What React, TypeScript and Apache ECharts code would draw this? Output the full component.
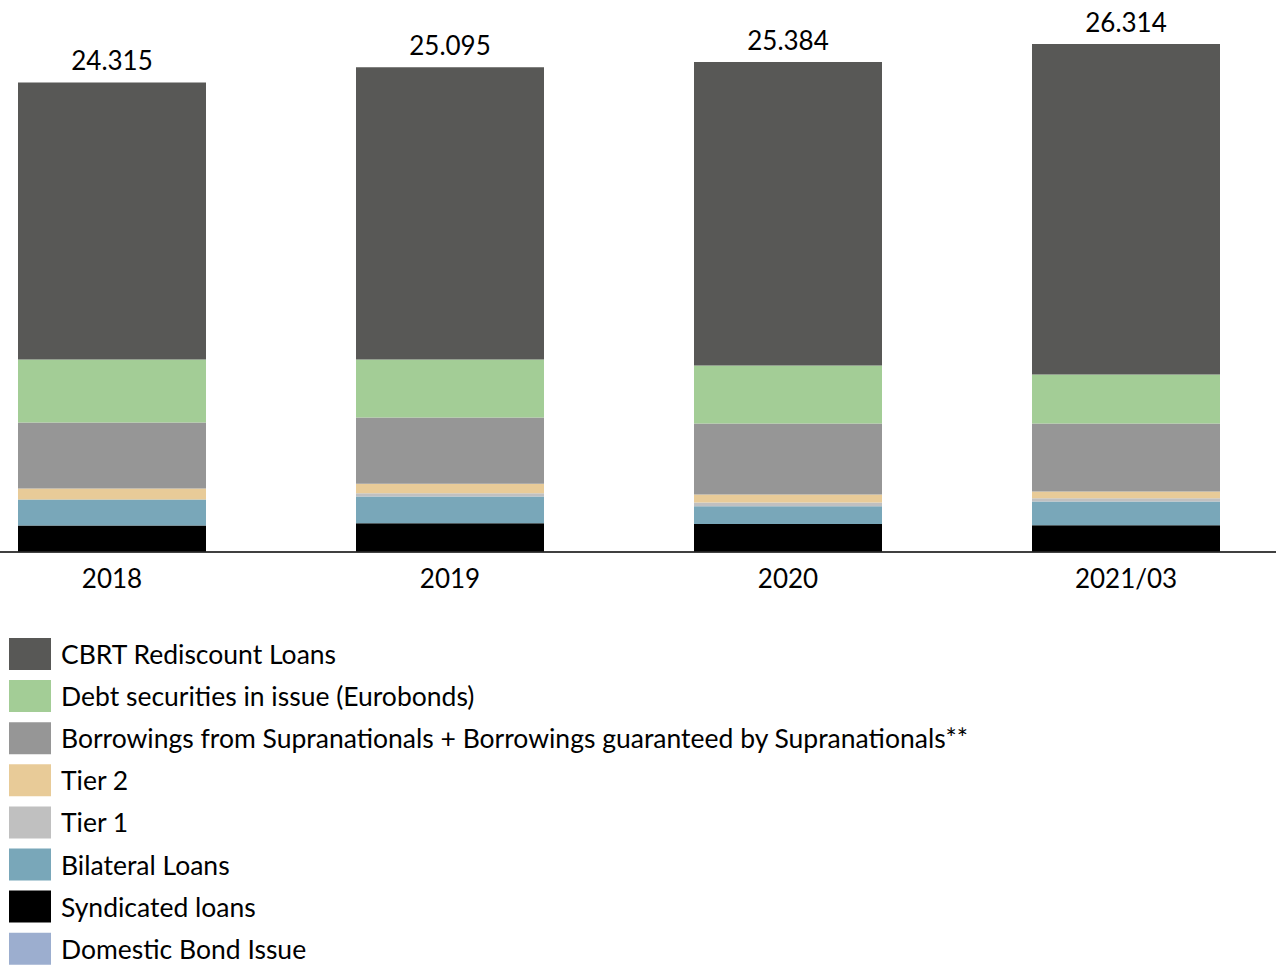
import React, { useEffect, useRef } from "react";
import * as echarts from "echarts";

const categories = ["2018", "2019", "2020", "2021/03"];
const totals = [24.315, 25.095, 25.384, 26.314];
const syndicated = [1.35, 1.47, 1.42, 1.36];
const bilateral = [1.35, 1.38, 0.93, 1.23];
const tier1 = [0, 0.17, 0.19, 0.17];
const tier2 = [0.57, 0.49, 0.41, 0.35];
const supranational = [3.42, 3.44, 3.68, 3.53];
const eurobonds = [3.27, 3.01, 3.01, 2.54];
const cbrt = [14.36, 15.14, 15.74, 17.13];
const domestic = [0, 0, 0, 0];

const legendOrder = [
  "CBRT Rediscount Loans",
  "Debt securities in issue (Eurobonds)",
  "Borrowings from Supranationals + Borrowings guaranteed by Supranationals**",
  "Tier 2",
  "Tier 1",
  "Bilateral Loans",
  "Syndicated loans",
  "Domestic Bond Issue",
];

const FONT = "Lato";
const OFFSET = 57;

export default function App() {
  const ref = useRef<HTMLDivElement>(null);
  useEffect(() => {
    if (!ref.current) return;
    const chart = echarts.init(ref.current, undefined, { renderer: "svg" });
    const mk = (name: string, data: number[], color: string, extra: any = {}) => ({
      name,
      type: "bar",
      stack: "total",
      barWidth: 188,
      data,
      itemStyle: { color },
      ...extra,
    });
    chart.setOption({
      animation: false,
      textStyle: { fontFamily: FONT },
      grid: { left: 0, right: 0, top: 11.4, height: 540.1 },
      xAxis: {
        type: "category",
        data: categories,
        axisLine: { lineStyle: { color: "#000", width: 1.5 } },
        axisTick: { show: false },
        axisLabel: { color: "#000", fontSize: 26, fontFamily: FONT, margin: 13 },
      },
      yAxis: {
        type: "value",
        min: 0,
        max: 28,
        show: false,
        splitLine: { show: false },
      },
      legend: {
        orient: "vertical",
        left: OFFSET + 4,
        top: 633,
        itemWidth: 42,
        itemHeight: 32,
        itemGap: 10.1,
        icon: "rect",
        data: legendOrder,
        selectedMode: false,
        textStyle: { color: "#000", fontSize: 26.5, fontFamily: FONT, padding: [0, 0, 0, 5] },
      },
      series: [
        mk("Syndicated loans", syndicated, "#000000"),
        mk("Domestic Bond Issue", domestic, "#9CAECF"),
        mk("Bilateral Loans", bilateral, "#79A7B9"),
        mk("Tier 1", tier1, "#C0C0C0"),
        mk("Tier 2", tier2, "#E8CB98"),
        mk(legendOrder[2], supranational, "#969696"),
        mk("Debt securities in issue (Eurobonds)", eurobonds, "#A3CD96"),
        mk("CBRT Rediscount Loans", cbrt, "#585856", {
          label: {
            show: true,
            position: "top",
            distance: 9,
            color: "#000",
            fontSize: 26,
            fontFamily: FONT,
            formatter: (p: any) => totals[p.dataIndex].toFixed(3),
          },
        }),
      ],
    });
    return () => chart.dispose();
  }, []);
  return (
    <div
      style={{
        position: "fixed",
        left: 0,
        top: 0,
        width: 1276,
        height: 966,
        overflow: "hidden",
        background: "#fff",
      }}
    >
      <div
        ref={ref}
        style={{ position: "absolute", left: -OFFSET, top: 0, width: 1352, height: 1010 }}
      />
    </div>
  );
}
